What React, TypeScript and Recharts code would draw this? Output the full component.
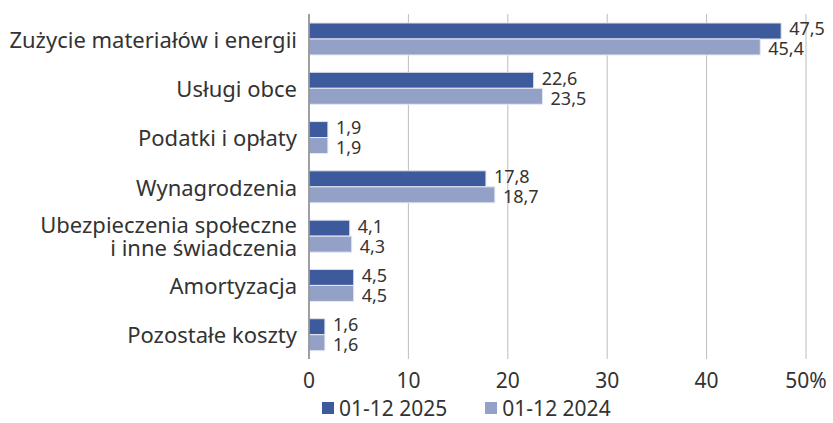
import { BarChart, Bar, XAxis, YAxis, CartesianGrid, Legend, LabelList } from 'recharts';

const categories = [
  'Zużycie materiałów i energii',
  'Usługi obce',
  'Podatki i opłaty',
  'Wynagrodzenia',
  'Ubezpieczenia społeczne\ni inne świadczenia',
  'Amortyzacja',
  'Pozostałe koszty',
];
const values2025 = [47.5, 22.6, 1.9, 17.8, 4.1, 4.5, 1.6];
const values2024 = [45.4, 23.5, 1.9, 18.7, 4.3, 4.5, 1.6];
const xTicks = [0, 10, 20, 30, 40, 50];
const seriesNames = ['01-12 2025', '01-12 2024'];

const DARK = '#3d5a9d';
const LIGHT = '#92a1c5';
const TEXT = '#333';
const FONT = '"Noto Sans", sans-serif';

const data = categories.map((name, i) => ({
  name,
  v2025: values2025[i],
  v2024: values2024[i],
}));

const fmt = (v: number) => v.toFixed(1).replace('.', ',');

// category labels, "\n" splits into right-aligned lines
function CategoryTick({ x, y, payload }: any) {
  const lines = String(payload.value).split('\n');
  const lineH = 23;
  const startDy = -((lines.length - 1) * lineH) / 2;
  return (
    <text x={x} y={y} textAnchor="end" fill={TEXT} fontSize={22} fontFamily={FONT} dominantBaseline="central">
      {lines.map((line, i) => (
        <tspan key={i} x={x} dy={i === 0 ? startDy : lineH}>
          {line}
        </tspan>
      ))}
    </text>
  );
}

function renderLegend() {
  const colors = [DARK, LIGHT];
  return (
    <div style={{ display: 'flex', paddingLeft: 322, fontFamily: FONT, fontSize: 21, lineHeight: '22px', height: 22, color: TEXT }}>
      {seriesNames.map((n, i) => (
        <div key={n} style={{ display: 'flex', alignItems: 'center', marginRight: 38 }}>
          <div style={{ width: 12, height: 12, background: colors[i], marginRight: 5 }} />
          <span>{n}</span>
        </div>
      ))}
    </div>
  );
}

export default function App() {
  return (
    <div style={{ position: 'absolute', left: 0, top: 0, width: 833, height: 423, background: '#fff' }}>
      <BarChart
        width={833}
        height={423}
        data={data}
        layout="vertical"
        margin={{ top: 14, right: 27, bottom: 0, left: 0 }}
        barSize={16}
        barGap={0}
      >
        <CartesianGrid horizontal={false} stroke="#bdbdbd" />
        <XAxis
          type="number"
          domain={[0, 50]}
          ticks={xTicks}
          axisLine={false}
          tickLine={false}
          tickMargin={8}
          height={42}
          tickFormatter={(v: number) => (v === 50 ? '50%' : String(v))}
          tick={{ fill: TEXT, fontSize: 21, fontFamily: FONT }}
        />
        <YAxis
          type="category"
          dataKey="name"
          width={309}
          tickLine={false}
          tickMargin={6}
          axisLine={{ stroke: '#8a8a8a', strokeWidth: 1.5 }}
          tick={<CategoryTick />}
          interval={0}
        />
        <Legend verticalAlign="bottom" content={renderLegend} wrapperStyle={{ left: 0, width: 833, top: 397 }} />
        <Bar dataKey="v2025" name={seriesNames[0]} fill={DARK} stroke="#dfe3ee" strokeWidth={1} isAnimationActive={false}>
          <LabelList dataKey="v2025" position="right" offset={8} dy={-2} formatter={fmt} fill={TEXT} fontSize={18} fontFamily={FONT} />
        </Bar>
        <Bar dataKey="v2024" name={seriesNames[1]} fill={LIGHT} stroke="#e6e9f1" strokeWidth={1} isAnimationActive={false}>
          <LabelList dataKey="v2024" position="right" offset={8} dy={2} formatter={fmt} fill={TEXT} fontSize={18} fontFamily={FONT} />
        </Bar>
      </BarChart>
    </div>
  );
}
